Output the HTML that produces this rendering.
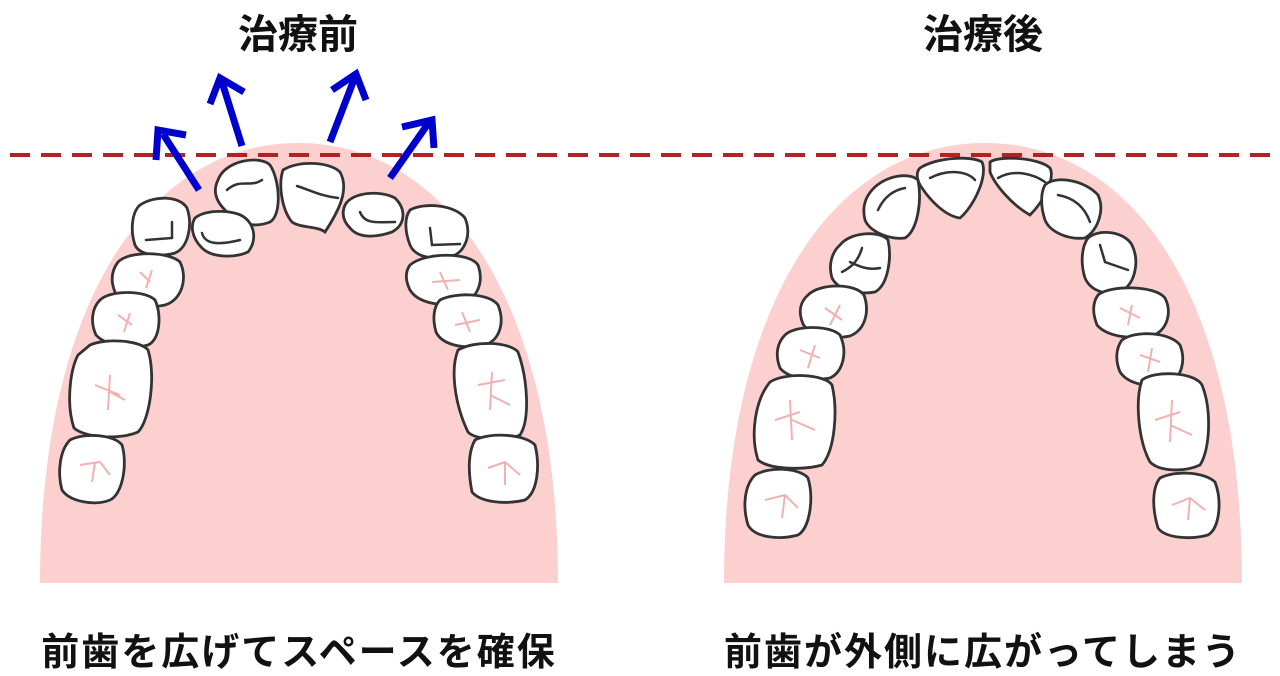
<!DOCTYPE html>
<html><head><meta charset="utf-8"><style>
html,body{margin:0;padding:0;background:#fff;width:1280px;height:676px;overflow:hidden}
svg{display:block}
text{font-family:"Liberation Sans","Noto Sans CJK JP",sans-serif;font-weight:bold;fill:#111}
.t{fill:#fff;stroke:#333;stroke-width:2.8}
.g{fill:none;stroke:#333;stroke-width:2.5;stroke-linecap:round}
.p{fill:none;stroke:#f3b0b0;stroke-width:2}
.a{fill:none;stroke:#0000cc;stroke-width:7}
</style></head><body>
<svg width="1280" height="676" viewBox="0 0 1280 676">
<path d="M40,583 C40,300 150,143 298,143 C446,143 558,300 558,583 Z" fill="#fdd0d0"/>
<path d="M724,583 C724,300 835,143 985,143 C1135,143 1242,300 1242,583 Z" fill="#fdd0d0"/>
<line x1="10" y1="155" x2="1272" y2="155" stroke="#b32222" stroke-width="4" stroke-dasharray="20,11"/>
<text x="298" y="48" font-size="40" text-anchor="middle">治療前</text>
<text x="983" y="48" font-size="40" text-anchor="middle">治療後</text>
<text x="299" y="665" font-size="38" text-anchor="middle" letter-spacing="2">前歯を広げてスペースを確保</text>
<text x="983" y="665" font-size="38" text-anchor="middle" letter-spacing="2">前歯が外側に広がってしまう</text>
<g class="a">
<line x1="199" y1="190" x2="163" y2="134"/><polyline points="156,160 158,130 186,135"/>
<line x1="242" y1="146" x2="222" y2="82"/><polyline points="210,104 220,78 244,92"/>
<line x1="330" y1="142" x2="355" y2="77"/><polyline points="332,90 356,74 366,100"/>
<line x1="390" y1="178" x2="430" y2="121"/><polyline points="402,127 432,120 434,148"/>
</g>
<g>
<path class="t" d="M218,180 C225,160 260,155 270,165 C280,180 282,215 270,222 C255,228 238,225 225,210 C215,200 213,190 218,180Z"/>
<path class="g" d="M227,190 C240,178 250,188 262,180"/>
<path class="t" d="M283,170 C300,160 330,162 340,172 C350,190 338,212 325,232 C318,226 300,228 292,222 C282,210 278,185 283,170Z"/>
<path class="g" d="M297,186 C310,190 320,196 338,198"/>
<path class="t" d="M345,205 C352,192 380,190 395,198 C407,210 405,225 392,232 C375,238 358,238 350,228 C342,220 342,212 345,205Z"/>
<path class="g" d="M360,212 C365,225 378,222 395,222"/>
<path class="t" d="M195,218 C205,210 225,210 238,214 C255,220 258,240 248,252 C235,258 212,258 202,248 C192,238 190,226 195,218Z"/>
<path class="g" d="M202,233 C205,245 220,245 240,240"/>
<path class="t" d="M140,205 C155,195 180,196 187,208 C193,225 188,248 175,253 C160,257 140,256 135,245 C130,230 132,212 140,205Z"/>
<path class="g" d="M172,222 L172,238 L146,240"/>
<path class="t" d="M410,210 C425,202 455,205 465,218 C472,235 465,253 450,257 C432,260 415,257 410,245 C405,232 404,218 410,210Z"/>
<path class="g" d="M430,228 L432,245 L460,244"/>
<path class="t" d="M118,262 C130,250 170,252 180,262 C188,278 182,300 165,305 C140,310 120,305 115,292 C110,280 112,270 118,262Z"/>
<path class="p" d="M140,272 L150,282 M152,270 L146,288"/>
<path class="t" d="M100,300 C110,290 145,290 155,300 C162,315 160,340 148,345 C130,350 105,345 96,335 C90,322 92,308 100,300Z"/>
<path class="p" d="M118,315 L132,325 M130,313 L124,332"/>
<path class="t" d="M90,345 C105,338 140,340 148,350 C156,375 150,420 138,432 C120,440 85,438 74,428 C66,405 70,370 78,355Z"/>
<path class="p" d="M95,385 L120,395 M110,375 L108,410 M110,392 L125,400"/>
<path class="t" d="M70,440 C85,432 115,435 122,445 C128,465 122,495 110,500 C95,506 70,502 62,490 C57,472 60,450 70,440Z"/>
<path class="p" d="M80,465 L100,462 L110,475 M95,462 L92,482"/>
<path class="t" d="M410,265 C425,252 470,252 478,265 C484,282 478,298 462,303 C440,307 418,303 410,290 C405,280 405,272 410,265Z"/>
<path class="p" d="M440,272 L448,290 M432,282 L460,280"/>
<path class="t" d="M440,300 C455,292 490,293 498,305 C505,322 500,340 485,345 C465,350 442,345 436,332 C432,318 434,306 440,300Z"/>
<path class="p" d="M462,312 L470,332 M455,325 L480,320"/>
<path class="t" d="M458,350 C475,340 510,342 518,352 C528,380 530,420 520,435 C505,442 475,440 468,432 C455,405 450,370 458,350Z"/>
<path class="p" d="M478,385 L505,380 M492,372 L490,410 M490,395 L510,405"/>
<path class="t" d="M475,440 C490,432 525,434 535,445 C540,465 538,492 525,500 C505,505 480,502 472,492 C468,472 468,452 475,440Z"/>
<path class="p" d="M488,468 L505,462 L520,475 M505,462 L505,485"/>
</g>
<g>
<path class="t" d="M920,168 C935,158 970,155 982,162 C988,175 975,205 960,218 C945,216 930,200 922,188 C916,180 916,172 920,168Z"/>
<path class="g" d="M930,178 C950,168 968,172 975,180"/>
<path class="t" d="M990,162 C1000,155 1040,158 1050,168 C1055,178 1045,200 1030,215 C1012,205 995,185 990,172Z"/>
<path class="g" d="M998,178 C1015,168 1035,175 1045,182"/>
<path class="t" d="M872,190 C885,175 910,172 918,180 C922,200 918,230 905,238 C890,240 870,232 865,220 C862,208 865,198 872,190Z"/>
<path class="g" d="M878,210 C885,195 895,190 905,188"/>
<path class="t" d="M1045,185 C1055,175 1085,180 1098,195 C1105,210 1098,230 1085,238 C1068,240 1050,232 1045,220 C1040,205 1041,192 1045,185Z"/>
<path class="g" d="M1058,195 C1075,198 1085,208 1090,222"/>
<path class="t" d="M840,245 C850,232 880,230 888,240 C892,258 888,285 875,292 C858,295 838,290 832,278 C828,265 832,252 840,245Z"/>
<path class="g" d="M862,248 C858,262 850,268 842,272 M850,262 C862,268 870,270 880,268"/>
<path class="t" d="M1088,238 C1100,228 1125,232 1132,245 C1140,262 1135,285 1120,292 C1105,296 1090,290 1085,278 C1080,262 1082,246 1088,238Z"/>
<path class="g" d="M1100,245 L1105,262 L1128,270"/>
<path class="t" d="M808,295 C820,283 855,283 864,295 C870,312 865,330 850,336 C830,340 810,336 803,324 C798,312 800,302 808,295Z"/>
<path class="p" d="M825,308 L842,320 M840,305 L830,325"/>
<path class="t" d="M1098,295 C1110,285 1155,285 1165,298 C1172,312 1168,330 1152,336 C1130,340 1106,336 1097,325 C1092,312 1093,302 1098,295Z"/>
<path class="p" d="M1120,308 L1140,318 M1132,305 L1128,325"/>
<path class="t" d="M785,335 C795,325 830,325 840,335 C848,352 843,372 830,378 C810,382 788,378 780,368 C775,355 777,343 785,335Z"/>
<path class="p" d="M800,350 L820,358 M815,345 L808,368"/>
<path class="t" d="M1122,340 C1135,330 1170,332 1180,345 C1186,360 1182,378 1168,384 C1148,388 1128,384 1120,372 C1115,360 1116,348 1122,340Z"/>
<path class="p" d="M1140,355 L1160,362 M1152,348 L1148,372"/>
<path class="t" d="M770,382 C785,372 825,374 832,385 C838,410 835,450 822,465 C805,470 770,470 758,460 C750,435 755,400 770,382Z"/>
<path class="p" d="M775,420 L800,412 M790,400 L792,440 M792,420 L815,430"/>
<path class="t" d="M1142,380 C1155,370 1195,372 1202,385 C1212,410 1210,450 1200,465 C1185,472 1160,472 1150,462 C1138,440 1135,400 1142,380Z"/>
<path class="p" d="M1155,420 L1180,412 M1172,400 L1170,442 M1170,425 L1192,435"/>
<path class="t" d="M755,475 C770,466 800,468 808,478 C814,498 810,528 798,535 C780,540 755,538 748,525 C742,505 745,485 755,475Z"/>
<path class="p" d="M765,500 L785,495 L798,508 M785,495 L782,518"/>
<path class="t" d="M1160,478 C1175,470 1205,472 1215,482 C1222,500 1220,528 1208,535 C1190,540 1165,538 1158,528 C1152,508 1152,488 1160,478Z"/>
<path class="p" d="M1172,505 L1190,498 L1205,510 M1190,498 L1188,520"/>
</g>
</svg>
</body></html>
